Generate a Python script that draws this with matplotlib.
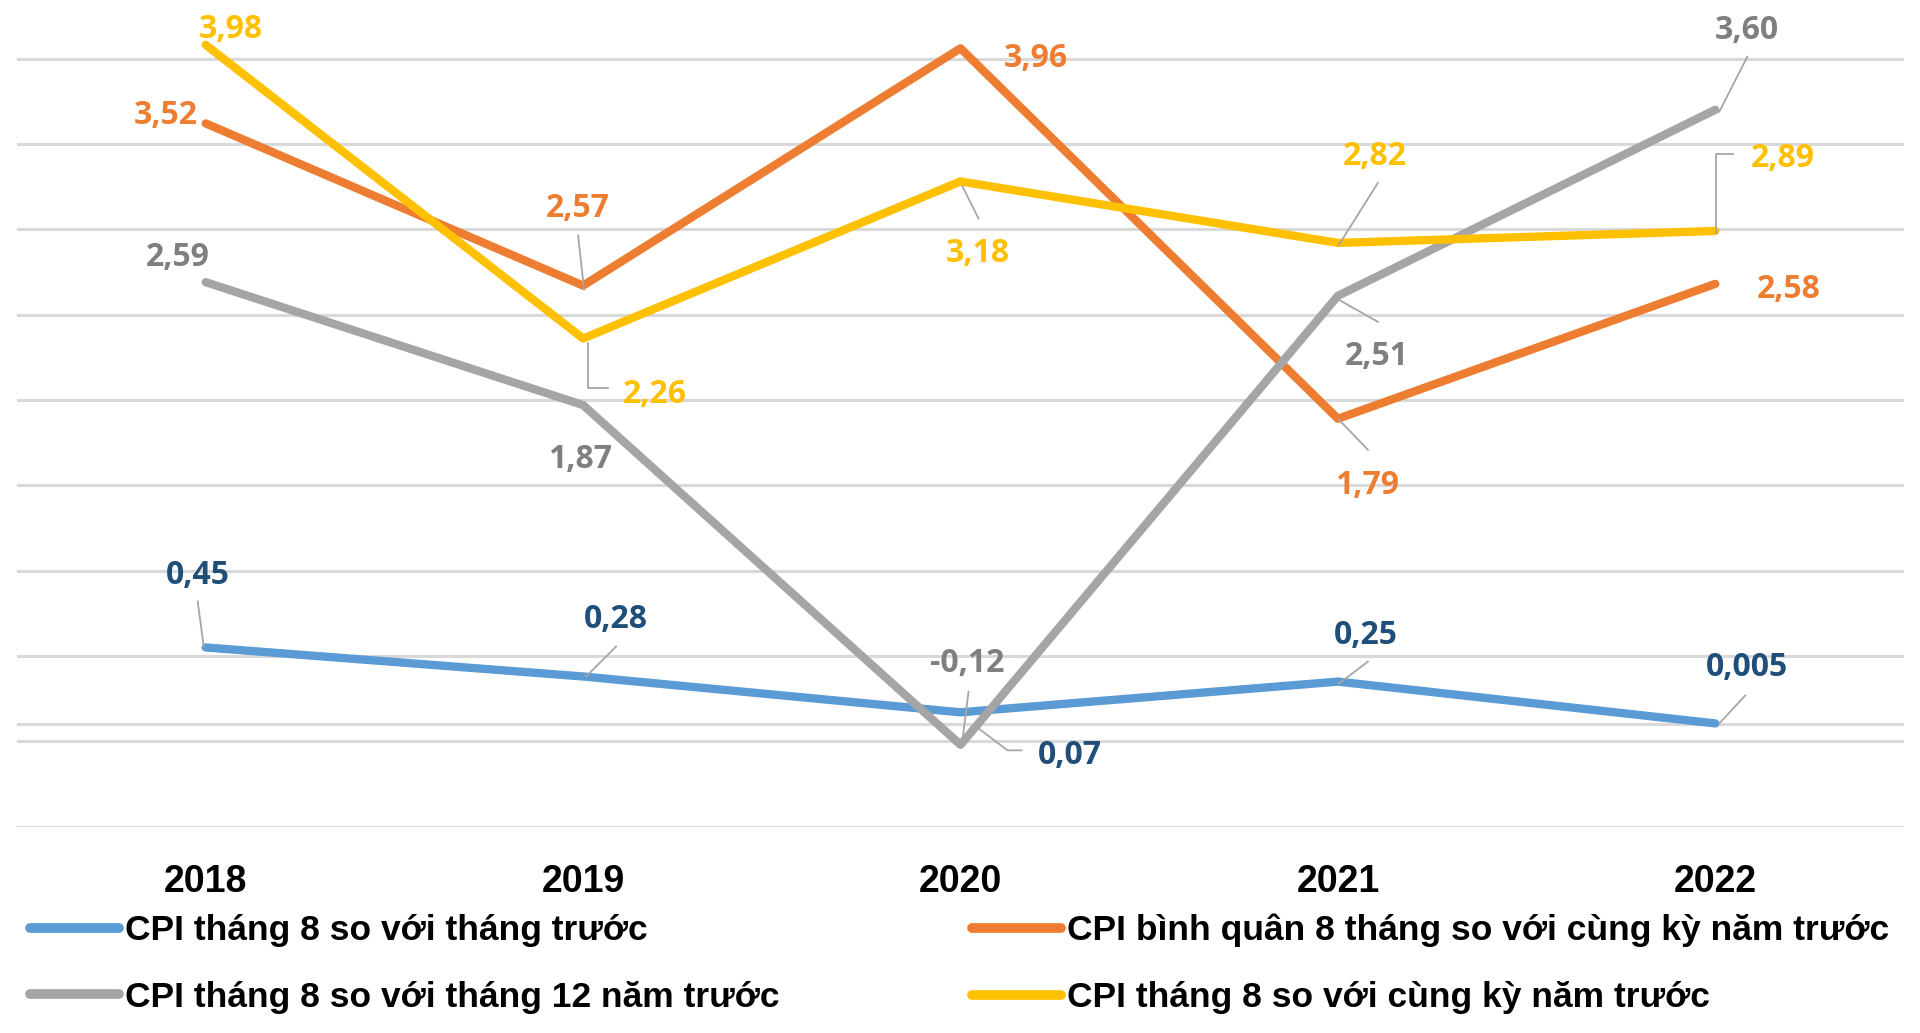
import numpy as np
import matplotlib
matplotlib.use("Agg")
import matplotlib.pyplot as plt
from matplotlib.lines import Line2D

# du lieu CPI
years = ['2018', '2019', '2020', '2021', '2022']
cpi_thang_truoc = [0.45, 0.28, 0.07, 0.25, 0.005]
cpi_binh_quan = [3.52, 2.57, 3.96, 1.79, 2.58]
cpi_thang12 = [2.59, 1.87, -0.12, 2.51, 3.60]
cpi_cung_ky = [3.98, 2.26, 3.18, 2.82, 2.89]

lbl_thang_truoc = ['0,45', '0,28', '0,07', '0,25', '0,005']
lbl_binh_quan = ['3,52', '2,57', '3,96', '1,79', '2,58']
lbl_thang12 = ['2,59', '1,87', '-0,12', '2,51', '3,60']
lbl_cung_ky = ['3,98', '2,26', '3,18', '2,82', '2,89']

names = ['CPI tháng 8 so với tháng trước',
         'CPI bình quân 8 tháng so với cùng kỳ năm trước',
         'CPI tháng 8 so với tháng 12 năm trước',
         'CPI tháng 8 so với cùng kỳ năm trước']

c_blue = '#5B9BD5'; c_orange = '#ED7D31'; c_gray = '#A5A5A5'; c_yellow = '#FFC000'
t_blue = '#1F4E79'; t_orange = '#ED7D31'; t_gray = '#7F7F7F'; t_yellow = '#FFC000'
c_lead = '#A6A6A6'

W, H = 1920, 1033
fig = plt.figure(figsize=(W/100, H/100), dpi=100)
ax = fig.add_axes([17/W, (H-826.7)/H, 1887/W, 826.7/H])
ax.set_xlim(-0.5, 4.5)
ax.set_ylim(-0.6, 4.243)
for s in ax.spines.values():
    s.set_visible(False)
ax.set_yticks([])

# luoi ngang
for v in np.round(np.arange(-0.6, 4.0, 0.5), 2):
    ax.axhline(v, color='#D9D9D9', lw=2.2, zorder=0)
ax.axhline(0, color='#D9D9D9', lw=2.2, zorder=0)

x = np.arange(len(years))
ax.set_xticks(x)
ax.set_xticklabels(years, fontsize=27, fontweight='bold', family='Liberation Sans')
ax.tick_params(axis='x', length=0, pad=27)

kw = dict(lw=6, solid_joinstyle='round', solid_capstyle='round')
l1, = ax.plot(x, cpi_thang_truoc, color=c_blue, zorder=2, **kw)
l2, = ax.plot(x, cpi_binh_quan, color=c_orange, zorder=3, **kw)
l3, = ax.plot(x, cpi_thang12, color=c_gray, zorder=4, **kw)
l4, = ax.plot(x, cpi_cung_ky, color=c_yellow, zorder=5, **kw)

# vi tri nhan (pixel, so voi diem) va duong dan
offs_blue = [(-8, -76), (33, -61), (109, 39), (28, -50), (32, -60)]
lead_blue = [[(-8, -46), (-2, -1)], [(33, -30), (3, 0)],
             [(14, 13), (47, 38), (61, 38)], [(30, -20), (1, 2)], [(30, -28), (4, 0)]]
offs_orange = [(-40, -12), (-5, -81), (75, 6), (29, 63), (73, 2)]
lead_orange = [None, [(-5, -50), (1, 4)], None, [(1, 1), (30, 31)], None]
offs_gray = [(-28, -29), (-3, 50), (7, -85), (39, 57), (32, -83)]
lead_gray = [None, None, [(8, -53), (2, -5)], [(1, 4), (40, 26)], [(4, 2), (32, -53)]]
offs_yellow = [(25, -19), (72, 52), (17, 68), (37, -90), (68, -76)]
lead_yellow = [None, [(5, 5), (5, 50), (25, 50)], [(2, 5), (18, 37)],
               [(1, 2), (40, -60)], [(1, 2), (1, -77), (18, -77)]]


def nhan(vals, lbls, offs, leads, col):
    for i, v in enumerate(vals):
        px, py = ax.transData.transform((i, v))
        dx, dy = offs[i]
        fig.text((px+dx)/W, (py-dy)/H, lbls[i], color=col, fontsize=23,
                 family=['Open Sans', 'DejaVu Sans'], fontweight='bold',
                 ha='center', va='center_baseline')
        if leads[i] is not None:
            xs = [(px+a)/W for a, b in leads[i]]
            ys = [(py-b)/H for a, b in leads[i]]
            fig.add_artist(Line2D(xs, ys, color=c_lead, lw=1.3, zorder=6))


nhan(cpi_thang_truoc, lbl_thang_truoc, offs_blue, lead_blue, t_blue)
nhan(cpi_binh_quan, lbl_binh_quan, offs_orange, lead_orange, t_orange)
nhan(cpi_thang12, lbl_thang12, offs_gray, lead_gray, t_gray)
nhan(cpi_cung_ky, lbl_cung_ky, offs_yellow, lead_yellow, t_yellow)

lkw = dict(loc='center left', frameon=False, borderpad=0, borderaxespad=0,
           handlelength=2.5, handletextpad=0.17, labelspacing=0.95,
           prop={'family': 'Liberation Sans', 'weight': 'bold', 'size': 25.5})
leg1 = fig.legend([l1, l3], [names[0], names[2]], bbox_to_anchor=(30/W, (H-964)/H), **lkw)
leg2 = fig.legend([l2, l4], [names[1], names[3]], bbox_to_anchor=(972/W, (H-964)/H), **lkw)
for lg in (leg1, leg2):
    for h in lg.legend_handles:
        h.set_linewidth(7)

fig.savefig('out.png', dpi=100)
